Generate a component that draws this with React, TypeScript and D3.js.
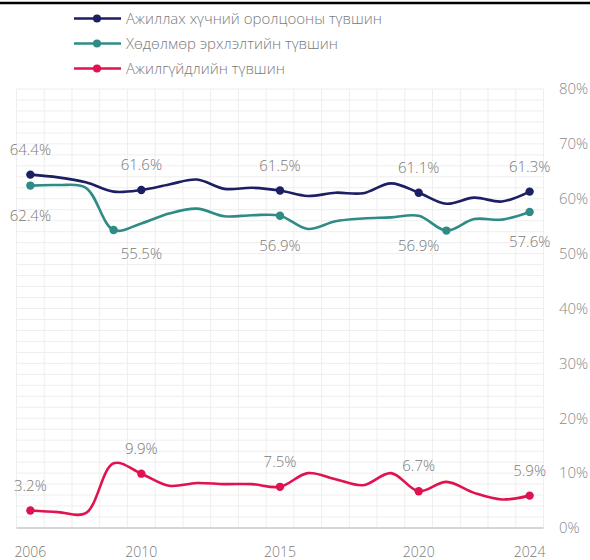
import React from "react";
import * as d3 from "d3";

const years = [2006, 2007, 2008, 2009, 2010, 2011, 2012, 2013, 2014, 2015, 2016, 2017, 2018, 2019, 2020, 2021, 2022, 2023, 2024];
const participation = [64.4, 63.9, 63.0, 61.3, 61.6, 62.6, 63.5, 61.8, 62.0, 61.5, 60.5, 61.1, 61.0, 62.8, 61.1, 59.1, 60.2, 59.5, 61.3];
const employment = [62.4, 62.5, 62.0, 54.3, 55.5, 57.3, 58.2, 56.8, 57.0, 56.9, 54.5, 55.9, 56.4, 56.6, 56.9, 54.2, 56.3, 56.2, 57.6];
const unemployment = [3.2, 2.9, 2.7, 11.8, 9.9, 7.7, 8.2, 8.0, 8.0, 7.5, 10.0, 8.9, 7.8, 10.0, 6.7, 8.4, 6.4, 5.2, 5.9];

const seriesNames = ["Ажиллах хүчний оролцооны түвшин", "Хөдөлмөр эрхлэлтийн түвшин", "Ажилгүйдлийн түвшин"];
const seriesColors = ["#1c1f63", "#2f8b85", "#e0124f"];
const markerYears = [
  [2006, 2010, 2015, 2020, 2024],
  [2006, 2009, 2015, 2021, 2024],
  [2006, 2010, 2015, 2020, 2024],
];
const labelYears = [2006, 2010, 2015, 2020, 2024];
const labelOffsets = [-25, 30, -25];
const yTicks = [0, 10, 20, 30, 40, 50, 60, 70, 80];
const xTicks = [2006, 2010, 2015, 2020, 2024];

export default function App() {
  const W = 590, H = 560;
  const x = d3.scaleBand<number>().domain(years).range([16.5, 543.5]).padding(0);
  const cx = (yr: number) => (x(yr) as number) + x.bandwidth() / 2;
  const y = d3.scaleLinear().domain([0, 80]).range([528, 89]);
  const allSeries = [participation, employment, unemployment];
  const line = d3
    .line<number>()
    .x((_, i) => cx(years[i]))
    .y((v) => y(v))
    .curve(d3.curveCatmullRom.alpha(0.5));
  const font = "'Open Sans', 'Noto Sans', sans-serif";
  const textColor = "#7a7a7a";
  const hGrid = d3.range(0, 81, 2);
  const vGrid = years.map((yr) => x(yr) as number).concat([543.5]);

  return (
    <svg width={W} height={H} style={{ position: "absolute", left: 0, top: 0, background: "#fff" }} fontFamily={font} fontWeight={300}>
      <line x1={0} x2={W} y1={3} y2={3} stroke="#000" strokeWidth={2.5} />
      {/* legend */}
      {seriesNames.map((n, i) => {
        const ly = 18.5 + i * 25;
        return (
          <g key={n}>
            <line x1={74} x2={121} y1={ly} y2={ly} stroke={seriesColors[i]} strokeWidth={2.5} />
            <circle cx={97} cy={ly} r={4} fill={seriesColors[i]} />
            <text x={126} y={ly} dy="0.35em" fontSize={15} fill={textColor}>{n}</text>
          </g>
        );
      })}
      {/* grid */}
      {hGrid.map((v) => (
        <line key={"h" + v} x1={16.5} x2={543.5} y1={y(v)} y2={y(v)} stroke="#eeeeee" strokeWidth={1} />
      ))}
      {vGrid.map((gx, i) => (
        <line key={"v" + i} x1={gx} x2={gx} y1={y(80)} y2={y(0)} stroke="#eeeeee" strokeWidth={1} />
      ))}
      <line x1={16.5} x2={543.5} y1={y(0)} y2={y(0)} stroke="#d6d6d6" strokeWidth={2} />
      {/* right axis */}
      {yTicks.map((t) => (
        <text key={"yt" + t} x={559} y={y(t)} dy="0.35em" fontSize={15} fill="#8a8a8a">{t + "%"}</text>
      ))}
      {/* bottom axis */}
      {xTicks.map((t) => (
        <text key={"xt" + t} x={cx(t)} y={552} dy="0.35em" fontSize={14} fill={textColor} textAnchor="middle">{t}</text>
      ))}
      {/* lines */}
      {allSeries.map((s, i) => (
        <g key={"s" + i}>
          <path d={line(s) as string} fill="none" stroke={seriesColors[i]} strokeWidth={2.6} strokeLinecap="round" />
          {markerYears[i].map((yr) => (
            <circle key={yr} cx={cx(yr)} cy={y(s[years.indexOf(yr)])} r={4.2} fill={seriesColors[i]} />
          ))}
          {labelYears.map((yr) => {
            const v = s[years.indexOf(yr)];
            return (
              <text key={"l" + yr} x={cx(yr)} y={y(v) + labelOffsets[i]} dy="0.35em" fontSize={15} fill={textColor} textAnchor="middle">
                {v.toFixed(1) + "%"}
              </text>
            );
          })}
        </g>
      ))}
    </svg>
  );
}
